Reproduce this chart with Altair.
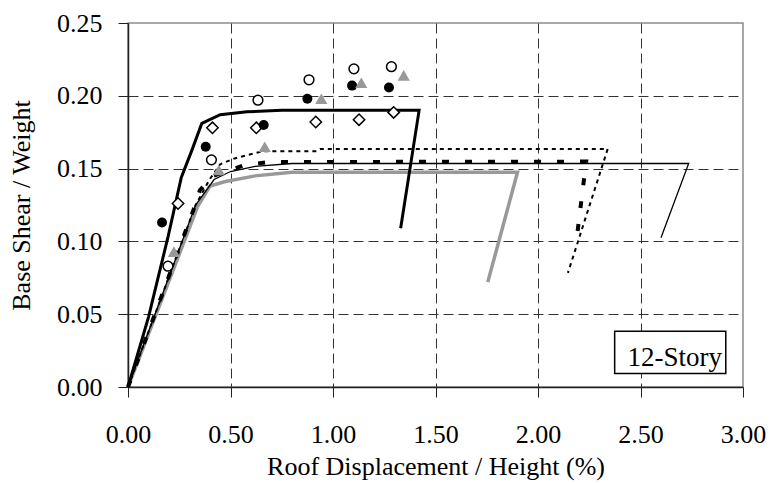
import altair as alt
import pandas as pd

# ---- data ----
thick_x = [0, 0.10, 0.195, 0.26, 0.31, 0.36, 0.45, 0.58, 0.75, 1.0, 1.42, 1.33]
thick_y = [0, 0.048, 0.103, 0.144, 0.162, 0.181, 0.187, 0.189, 0.190, 0.190, 0.190, 0.109]

thin_x = [0, 0.33, 0.42, 0.50, 0.62, 0.80, 2.735, 2.60]
thin_y = [0, 0.125, 0.1425, 0.148, 0.1515, 0.1535, 0.1535, 0.1025]

dash_x = [0, 0.32, 0.35, 0.41, 0.56, 0.68, 2.235, 2.187]
dash_y = [0, 0.122, 0.135, 0.1447, 0.152, 0.1545, 0.1548, 0.100]

dot_x = [0, 0.33, 0.40, 0.45, 0.52, 0.66, 0.92, 0.94, 2.34, 2.146]
dot_y = [0, 0.125, 0.143, 0.153, 0.157, 0.162, 0.162, 0.1635, 0.1635, 0.0784]

gray_x = [0, 0.34, 0.40, 0.47, 0.62, 0.80, 1.90, 1.755]
gray_y = [0, 0.124, 0.138, 0.141, 0.145, 0.1475, 0.1475, 0.072]

ocirc_x = [0.195, 0.407, 0.634, 0.883, 1.102, 1.285]
ocirc_y = [0.083, 0.156, 0.197, 0.211, 0.2185, 0.220]

fcirc_x = [0.166, 0.379, 0.662, 0.875, 1.093, 1.273]
fcirc_y = [0.113, 0.165, 0.180, 0.198, 0.207, 0.2057]

tri_x = [0.224, 0.443, 0.667, 0.943, 1.138, 1.345]
tri_y = [0.093, 0.149, 0.165, 0.198, 0.209, 0.214]

dia_x = [0.244, 0.412, 0.626, 0.916, 1.127, 1.296]
dia_y = [0.126, 0.178, 0.178, 0.182, 0.1836, 0.1886]

x_ticks = [0, 0.5, 1.0, 1.5, 2.0, 2.5, 3.0]
y_ticks = [0, 0.05, 0.10, 0.15, 0.20, 0.25]

label_text = ["12-Story"]
label_box_x = [2.374]
label_box_x2 = [2.916]
label_box_y = [0.0092]
label_box_y2 = [0.0383]
label_pos_x = [2.667]
label_pos_y = [0.0143]

FONT = "Liberation Serif"

xscale = alt.Scale(domain=[0, 3], nice=False, zero=False)
yscale = alt.Scale(domain=[0, 0.25], nice=False, zero=False)

xaxis = alt.Axis(
    values=x_ticks, format=".2f", title="Roof Displacement / Height (%)",
    labelPadding=24, titlePadding=6,
    gridColor={"condition": {"test": "datum.value === 0 || datum.value === 3", "value": "transparent"}, "value": "#333333"},
)
yaxis = alt.Axis(
    values=y_ticks, format=".2f", title="Base Shear / Weight",
    labelPadding=16, titlePadding=22,
    gridColor={"condition": {"test": "datum.value === 0 || datum.value > 0.24", "value": "transparent"}, "value": "#333333"},
)


def line_layer(xs, ys, **mark):
    df = pd.DataFrame({"x": xs, "y": ys, "i": list(range(len(xs)))})
    return alt.Chart(df).mark_line(**mark).encode(
        x=alt.X("x:Q", scale=xscale, axis=xaxis),
        y=alt.Y("y:Q", scale=yscale, axis=yaxis),
        order=alt.Order("i:Q"),
    )


def point_layer(xs, ys, **mark):
    df = pd.DataFrame({"x": xs, "y": ys})
    return alt.Chart(df).mark_point(**mark).encode(
        x=alt.X("x:Q", scale=xscale, axis=xaxis),
        y=alt.Y("y:Q", scale=yscale, axis=yaxis),
    )


gray = line_layer(gray_x, gray_y, color="#999999", strokeWidth=3.5)
thin = line_layer(thin_x, thin_y, color="black", strokeWidth=1.3)
dots = line_layer(dot_x, dot_y, color="black", strokeWidth=2, strokeDash=[4, 4])
dash = line_layer(dash_x, dash_y, color="black", strokeWidth=4, strokeDash=[7, 16])
thick = line_layer(thick_x, thick_y, color="black", strokeWidth=3)

ocirc = point_layer(ocirc_x, ocirc_y, shape="circle", size=95, filled=True,
                    fill="white", stroke="black", strokeWidth=1.5, opacity=1)
fcirc = point_layer(fcirc_x, fcirc_y, shape="circle", size=100, filled=True,
                    color="black", opacity=1)
tri = point_layer(tri_x, tri_y, shape="triangle-up", size=150, filled=True,
                  color="#999999", opacity=1)
dia = point_layer(dia_x, dia_y, shape="diamond", size=130, filled=True,
                  fill="white", stroke="black", strokeWidth=1.5, opacity=1)

box_df = pd.DataFrame({"x": label_box_x, "x2": label_box_x2, "y": label_box_y, "y2": label_box_y2})
box = alt.Chart(box_df).mark_rect(fill="white", stroke="black", strokeWidth=1.5).encode(
    x=alt.X("x:Q", scale=xscale, axis=xaxis), x2="x2:Q",
    y=alt.Y("y:Q", scale=yscale, axis=yaxis), y2="y2:Q",
)
txt_df = pd.DataFrame({"x": label_pos_x, "y": label_pos_y, "t": label_text})
txt = alt.Chart(txt_df).mark_text(font=FONT, fontSize=27, color="black",
                                  align="center", baseline="alphabetic").encode(
    x=alt.X("x:Q", scale=xscale, axis=xaxis),
    y=alt.Y("y:Q", scale=yscale, axis=yaxis),
    text="t:N",
)

chart = alt.layer(
    gray, thin, dots, dash, thick, box, txt, dia, ocirc, fcirc, tri
).properties(
    width=615, height=364,
    autosize=alt.AutoSizeParams(type="none"),
    padding={"left": 128, "top": 23, "right": 30, "bottom": 96},
    background="white",
).configure(
    font=FONT
).configure_axis(
    labelFont=FONT, titleFont=FONT,
    labelFontSize=26, titleFontSize=26, titleFontWeight="normal",
    labelColor="black", titleColor="black",
    tickSize=10, tickColor="#222", domainColor="#222", domainWidth=1.5,
    grid=True, gridDash=[10, 5], gridWidth=1,
    labelFlush=False, labelOverlap=False,
).configure_text(
    font=FONT
).configure_view(
    stroke="#8c8c8c", strokeWidth=1.5
)

chart.save("out.html", embed_options={"renderer": "svg", "actions": False})
